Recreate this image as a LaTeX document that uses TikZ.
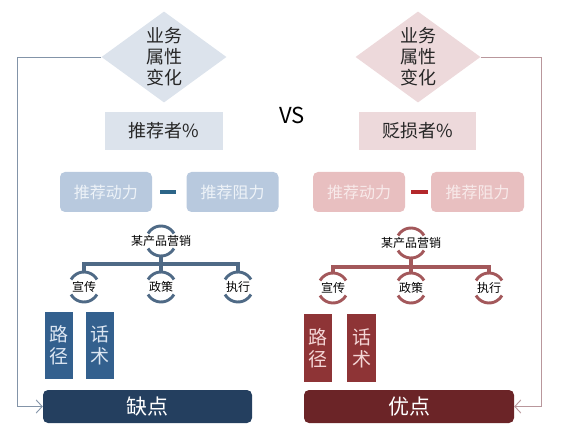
\documentclass[tikz,border=0pt]{standalone}
\usepackage{fontspec}
\setmainfont{Noto Sans CJK SC}
\usepackage{xcolor}
\usepackage{tikz}
\usetikzlibrary{arrows.meta,positioning,calc,shapes.geometric}
\definecolor{lightslate}{HTML}{DCE3EC}
\definecolor{paleblue}{HTML}{B8C9DE}
\definecolor{mistwhite}{HTML}{EEF3F8}
\definecolor{steel}{HTML}{2C6588}
\definecolor{treeblue}{HTML}{4F6A86}
\definecolor{steelblue}{HTML}{33608E}
\definecolor{pillarblue}{HTML}{DCE6F2}
\definecolor{navy}{HTML}{243F5F}
\definecolor{greyblue}{HTML}{8394A8}
\definecolor{lightrose}{HTML}{EDD9DB}
\definecolor{palerose}{HTML}{E8BFC0}
\definecolor{blush}{HTML}{F8EAEA}
\definecolor{crimson}{HTML}{B3272B}
\definecolor{treered}{HTML}{A3585B}
\definecolor{brick}{HTML}{8E3436}
\definecolor{pillarrose}{HTML}{F4D6D6}
\definecolor{maroon}{HTML}{6B2427}
\definecolor{greyrose}{HTML}{B9979C}
\tikzset{
  diamondbox/.style={
    diamond,aspect=1.37,inner sep=0pt,
    minimum width=125pt,minimum height=91pt,
    align=center,text=black!85,font=\fontsize{18}{21}\selectfont
  },
  ratiobox/.style={
    inner sep=0pt,minimum width=118pt,minimum height=38pt,
    text=black!85,font=\fontsize{18}{21}\selectfont
  },
  forcebox/.style={
    rounded corners=5pt,inner sep=0pt,
    minimum width=92pt,minimum height=40pt,
    font=\fontsize{16}{19}\selectfont
  },
  treelabel/.style={inner sep=0pt,text=black,font=\fontsize{12}{14}\selectfont},
  pillarbox/.style={
    inner sep=0pt,minimum width=28pt,minimum height=67pt,
    align=center,font=\fontsize{19}{22}\selectfont
  },
  resultbox/.style={
    rounded corners=5pt,inner sep=0pt,
    minimum width=209pt,minimum height=33pt,
    text=white,font=\fontsize{21}{24}\selectfont
  },
  minusbar/.style={line width=4pt},
  treeline/.style={line width=3.3pt},
  bracketline/.style={line width=2.9pt},
  arrow/.style={-{Straight Barb[length=6pt,width=13pt]},line width=.9pt}
}

\begin{document}
\begin{tikzpicture}[x=1pt,y=1pt]
\useasboundingbox (0,0) rectangle (566,432);

% recommenders side
\node[diamondbox,fill=lightslate] (ldiam) at (164,375) {业务\\属性\\变化};
\node[ratiobox,fill=lightslate] (lratio) at (164,301) {推荐者\%};
\node[forcebox,fill=paleblue,text=mistwhite] (lpush) at (106,240) {推荐动力};
\node[forcebox,fill=paleblue,text=mistwhite] (lpull) at (232.5,240) {推荐阻力};
\draw[minusbar,draw=steel,shorten <=8pt,shorten >=10pt] (lpush) -- (lpull);

\node[font=\fontsize{22}{24}\selectfont] (vs) at (292,317) {VS};

% detractors side
\node[diamondbox,fill=lightrose] (rdiam) at (418,375) {业务\\属性\\变化};
\node[ratiobox,fill=lightrose,minimum width=117pt] (rratio) at (417.5,301) {贬损者\%};
\node[forcebox,fill=palerose,text=blush] (rpush) at (359,240) {推荐动力};
\node[forcebox,fill=palerose,text=blush,minimum width=93pt] (rpull) at (477.5,240) {推荐阻力};
\draw[minusbar,draw=crimson,shorten <=6pt,shorten >=3pt] (rpush) -- (rpull);

% marketing trees
\node[treelabel] (lroot) at (161,191) {某产品营销};
\node[treelabel] (lc1) at (84,145) {宣传};
\node[treelabel] (lc2) at (161,145) {政策};
\node[treelabel] (lc3) at (238,145) {执行};
\node[treelabel] (rroot) at (411,189) {某产品营销};
\node[treelabel] (rc1) at (333,144) {宣传};
\node[treelabel] (rc2) at (411,144) {政策};
\node[treelabel] (rc3) at (489,144) {执行};

\draw[treeline,draw=treeblue] ([yshift=-15pt]lroot.center) -- ++(0,-8) -| ([yshift=15pt]lc1.center);
\draw[treeline,draw=treeblue] ([yshift=-15pt]lroot.center) -- ++(0,-8) -| ([yshift=15pt]lc3.center);
\draw[treeline,draw=treeblue] ([yshift=-15pt]lroot.center) -- ([yshift=15pt]lc2.center);
\draw[treeline,draw=treered] ([yshift=-15pt]rroot.center) -- ++(0,-9) -| ([yshift=15pt]rc1.center);
\draw[treeline,draw=treered] ([yshift=-15pt]rroot.center) -- ++(0,-9) -| ([yshift=15pt]rc3.center);
\draw[treeline,draw=treered] ([yshift=-15pt]rroot.center) -- ([yshift=15pt]rc2.center);

\foreach \n in {lroot,lc1,lc2,lc3}
  \draw[bracketline,draw=treeblue]
    ([shift={(30:15pt)}]\n.center) arc[start angle=30,end angle=150,radius=15pt]
    ([shift={(210:15pt)}]\n.center) arc[start angle=210,end angle=330,radius=15pt];
\foreach \n in {rroot,rc1,rc2,rc3}
  \draw[bracketline,draw=treered]
    ([shift={(30:15pt)}]\n.center) arc[start angle=30,end angle=150,radius=15pt]
    ([shift={(210:15pt)}]\n.center) arc[start angle=210,end angle=330,radius=15pt];

% channels and results
\node[pillarbox,fill=steelblue,text=pillarblue] (lroute) at (58.5,86.5) {路\\径};
\node[pillarbox,fill=steelblue,text=pillarblue] (lscript) at (100,86.5) {话\\术};
\node[pillarbox,fill=brick,text=pillarrose,minimum height=68pt] (rroute) at (318,84) {路\\径};
\node[pillarbox,fill=brick,text=pillarrose,minimum height=68pt,minimum width=29pt] (rscript) at (361.5,84) {话\\术};

\node[resultbox,fill=navy] (lresult) at (147.5,25.5) {缺点};
\node[resultbox,fill=maroon,minimum width=210pt] (rresult) at (409,25.5) {优点};

% feedback lines
\coordinate (lturn) at (17,25.5);
\coordinate (rturn) at (541,25.5);
\draw[arrow,draw=greyblue] (ldiam.west) -| (lturn) -- (lresult.west);
\draw[arrow,draw=greyrose] (rdiam.east) -| (rturn) -- (rresult.east);
\end{tikzpicture}
\end{document}
